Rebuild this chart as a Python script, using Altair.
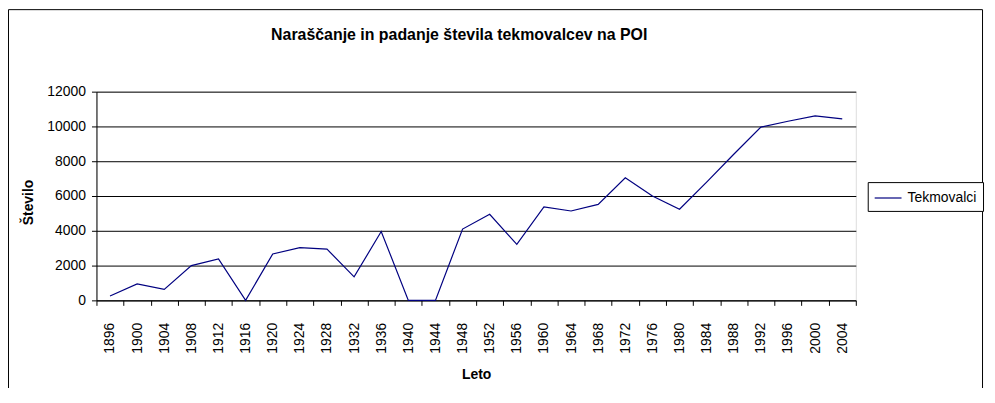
import altair as alt
import pandas as pd

years = [1896, 1900, 1904, 1908, 1912, 1916, 1920, 1924, 1928, 1932, 1936, 1940, 1944,
         1948, 1952, 1956, 1960, 1964, 1968, 1972, 1976, 1980, 1984, 1988, 1992, 1996,
         2000, 2004]
athletes = [250, 950, 630, 2000, 2380, 0, 2670, 3030, 2950, 1350, 3960, 0, 0,
            4100, 4950, 3220, 5370, 5140, 5520, 7050, 6000, 5240, 6800, 8400, 9960, 10300,
            10610, 10440]
series_name = "Tekmovalci"
y_ticks = [0, 2000, 4000, 6000, 8000, 10000, 12000]

FONT = "Liberation Sans, Arial, sans-serif"

df = pd.DataFrame({
    "Leto": [str(y) for y in years],
    "Število": athletes,
    "serija": [series_name] * len(years),
})

W, H = 764, 210

line = alt.Chart(df).mark_line(strokeWidth=1.2).encode(
    x=alt.X("Leto:O",
            bandPosition=0.5,
            scale=alt.Scale(type="band", paddingInner=0, paddingOuter=0),
            axis=alt.Axis(title="Leto", labelAngle=270, tickBand="extent", grid=False,
                          domainColor="black", tickColor="black", tickSize=5,
                          labelPadding=17, labelFont=FONT, labelFontSize=14,
                          labelColor="black", titleFont=FONT, titleFontSize=14,
                          titleFontWeight="bold", titleColor="black",
                          titleBaseline="alphabetic", titleY=79)),
    y=alt.Y("Število:Q",
            scale=alt.Scale(domain=[0, 12000], nice=False),
            axis=alt.Axis(title="Število", values=y_ticks, format="d", grid=True,
                          gridColor="black", gridWidth=1, domainColor="black",
                          tickColor="black", tickSize=5, labelPadding=6,
                          labelFont=FONT, labelFontSize=14, labelColor="black",
                          titleFont=FONT, titleFontSize=14, titleFontWeight="bold",
                          titleColor="black", titleAngle=270, titleBaseline="alphabetic",
                          titleAlign="center", titleX=-64, titleY=111)),
    color=alt.Color("serija:N",
                    scale=alt.Scale(domain=[series_name], range=["#000080"]),
                    legend=alt.Legend(title=None, orient="none", legendX=776, legendY=91,
                                      strokeColor="black", fillColor="white", padding=6,
                                      cornerRadius=0, symbolType="M-1.5,0H1.5",
                                      symbolSize=324, symbolOffset=4.5,
                                      symbolStrokeWidth=1.2, labelOffset=9.5,
                                      labelFont=FONT, labelFontSize=14,
                                      labelColor="black")),
)

frame = alt.Chart(pd.DataFrame({"f": [0]})).mark_rect(
    fillOpacity=0, stroke="black", strokeWidth=1, clip=False
).encode(
    x=alt.value(-88.5), x2=alt.value(891.5), y=alt.value(-82.5), y2=alt.value(400)
)

chart = alt.layer(line, frame).properties(
    width=W, height=H,
    title=alt.TitleParams("Naraščanje in padanje števila tekmovalcev na POI",
                          font=FONT, fontSize=16, fontWeight="bold", color="black",
                          anchor="middle", frame="group", dx=-17, dy=47, offset=0,
                          baseline="alphabetic"),
    padding={"left": 89, "top": 83, "right": 132, "bottom": 87},
    autosize=alt.AutoSizeParams(type="none"),
).configure_view(
    stroke="#808080", fill="#C0C0C0"
).configure(background="white")

chart.save("out.html", embed_options={"renderer": "svg", "actions": False})
